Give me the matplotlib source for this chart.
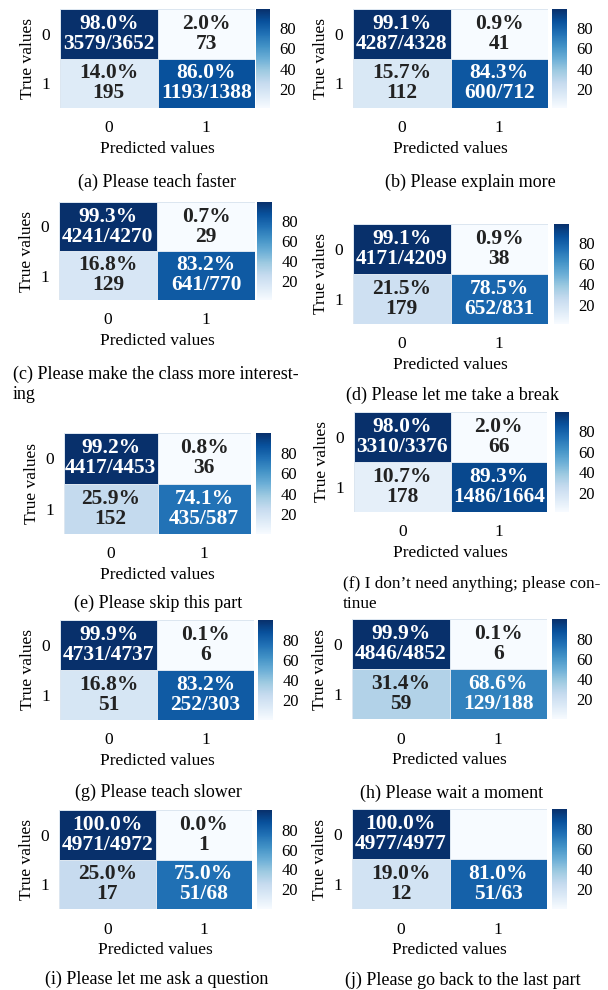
import numpy as np
import matplotlib
matplotlib.use('Agg')
import matplotlib.pyplot as plt

plt.rcParams['font.family'] = ['Liberation Serif', 'DejaVu Serif']

# Confusion matrix counts per request type: rows = true, cols = predicted
true0_pred0 = [3579, 4287, 4241, 4171, 4417, 3310, 4731, 4846, 4971, 4977]
true0_pred1 = [73, 41, 29, 38, 36, 66, 6, 6, 1, 0]
true1_pred0 = [195, 112, 129, 179, 152, 178, 51, 59, 17, 12]
true1_pred1 = [1193, 600, 641, 652, 435, 1486, 252, 129, 51, 51]

captions = [
    "(a) Please teach faster",
    "(b) Please explain more",
    "(c) Please make the class more interest-\ning",
    "(d) Please let me take a break",
    "(e) Please skip this part",
    "(f) I don\u2019t need anything; please con-\ntinue",
    "(g) Please teach slower",
    "(h) Please wait a moment",
    "(i) Please let me ask a question",
    "(j) Please go back to the last part",
]
tick_labels = ["0", "1"]
cbar_ticks = [20, 40, 60, 80]

W, H = 608, 990

# heatmap box (left, top, right, bottom) and colorbar box (left, right) in pixels
boxes = [
    (60, 9, 255, 108, 256, 270),
    (353, 9, 548, 108, 552, 567),
    (59, 202, 255, 300, 257, 272),
    (353, 224, 548, 324, 554, 569),
    (64, 433, 251, 534, 256, 271),
    (354, 412, 547, 512, 555, 569),
    (60, 620, 254, 720, 258, 273),
    (352, 619, 547, 719, 552, 567),
    (59, 810, 252, 909, 257, 272),
    (352, 809, 547, 909, 552, 567),
]
# caption anchor (x, y, horizontal alignment)
caption_pos = [
    (157, 182, 'center'), (470, 182, 'center'),
    (13, 384, 'left'), (452, 395, 'center'),
    (158, 603, 'center'), (343, 594, 'left'),
    (158, 792, 'center'), (452, 793, 'center'),
    (157, 979, 'center'), (463, 980, 'center'),
]


def px_rect(l, t, r, b):
    return [l / W, 1 - b / H, (r - l) / W, (b - t) / H]


fig = plt.figure(figsize=(W / 100, H / 100), dpi=100)
renderer = fig.canvas.get_renderer()
cmap = plt.get_cmap('Blues')

for i in range(len(captions)):
    counts = np.array([[true0_pred0[i], true0_pred1[i]],
                       [true1_pred0[i], true1_pred1[i]]])
    totals = counts.sum(axis=1, keepdims=True)
    pct = counts / totals * 100
    vmin, vmax = pct.min(), pct.max()

    l, t, r, b, cl, cr = boxes[i]
    ax = fig.add_axes(px_rect(l, t, r, b))
    cax = fig.add_axes(px_rect(cl, t, cr, b))

    mesh = ax.pcolormesh(pct, cmap=cmap, vmin=vmin, vmax=vmax,
                         edgecolor='#dce6f0', linewidth=0.4)
    ax.set_xlim(0, 2)
    ax.set_ylim(2, 0)
    for s in ax.spines.values():
        s.set_visible(False)

    for row in range(2):
        for col in range(2):
            n = counts[row, col]
            if n == 0:
                continue
            if row == col:
                label = f"{pct[row, col]:.1f}%\n{n}/{totals[row, 0]}"
            else:
                label = f"{pct[row, col]:.1f}%\n{n}"
            norm_v = (pct[row, col] - vmin) / (vmax - vmin)
            color = 'white' if norm_v > 0.5 else '#222222'
            ax.text(col + 0.5, row + 0.5, label, ha='center', va='center',
                    fontsize=15.5, fontweight='bold', color=color,
                    linespacing=1.0)

    ax.set_xticks([0.5, 1.5])
    ax.set_yticks([0.5, 1.5])
    ax.set_xticklabels(tick_labels)
    ax.set_yticklabels(tick_labels)
    ax.tick_params(axis='x', length=0, labelsize=12.5, pad=9)
    ax.tick_params(axis='y', length=0, labelsize=12.5, pad=7)
    ax.set_xlabel("Predicted values", fontsize=12.5, labelpad=3)
    ax.set_ylabel("True values", fontsize=12.5, labelpad=4)

    cb = fig.colorbar(mesh, cax=cax)
    cb.outline.set_visible(False)
    cb.set_ticks(cbar_ticks)
    cax.tick_params(length=0, labelsize=12, pad=7)

    cx, cy, ha = caption_pos[i]
    cap = fig.text(cx / W, 1 - cy / H, captions[i], ha=ha, va='center',
                   fontsize=13, linespacing=1.25)
    # shrink a caption that would run past the right edge
    ext = cap.get_window_extent(renderer)
    if ext.x1 > W - 10:
        cap.set_fontsize(13 * (W - 10 - ext.x0) / ext.width)

fig.savefig('out.png', dpi=100)
